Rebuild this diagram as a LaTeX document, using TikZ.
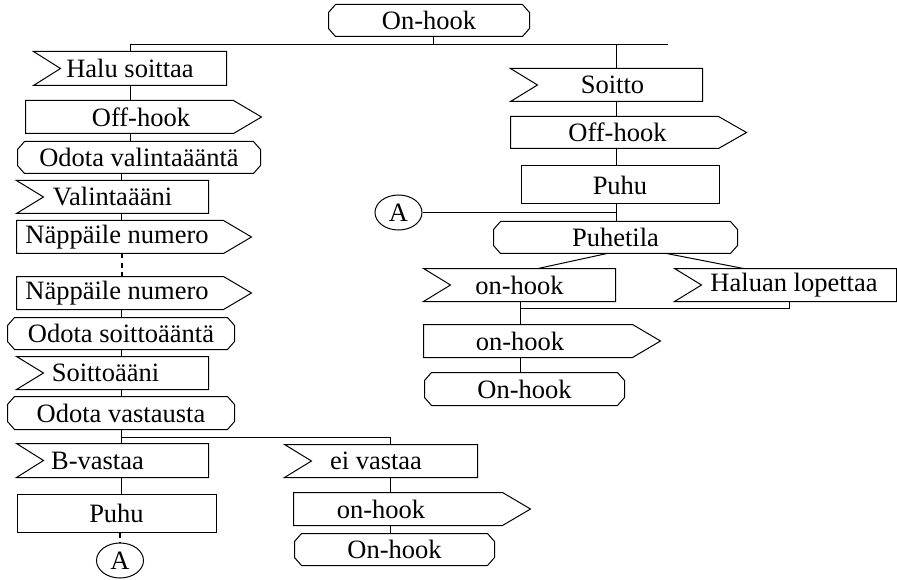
\documentclass[tikz,border=0pt]{standalone}
\usepackage{fontspec}
\setmainfont{Liberation Serif}
\usetikzlibrary{shapes.geometric}

% SDL outlines drawn round a named node
\newcommand{\sdlin}[1]{\draw (#1.north west) -- (#1.north east) -- (#1.south east) -- (#1.south west) -- ([xshift=27pt]#1.west) -- cycle;}
\newcommand{\sdlout}[1]{\draw (#1.north west) -- (#1.north east) -- ([xshift=28pt]#1.east) -- (#1.south east) -- (#1.south west) -- cycle;}
\newcommand{\sdlstate}[1]{\draw ([xshift=7pt]#1.north west) -- ([xshift=-7pt]#1.north east) -- ([yshift=-8pt]#1.north east) -- ([yshift=8pt]#1.south east) -- ([xshift=-7pt]#1.south east) -- ([xshift=7pt]#1.south west) -- ([yshift=8pt]#1.south west) -- ([yshift=-8pt]#1.north west) -- cycle;}

\begin{document}
\begin{tikzpicture}[x=1pt,y=-1pt,line width=1pt,
   sym/.style 2 args={inner sep=0pt,minimum width=#1pt,minimum height=#2pt,
      font=\fontsize{26.5}{30}\selectfont},
   tsh/.style={execute at begin node={\hspace*{#1pt}}},
   conn/.style={draw,ellipse,inner sep=0pt,minimum width=47pt,minimum height=35pt,
      font=\fontsize{26.5}{30}\selectfont},
   dots/.style={dash pattern=on 5pt off 4pt,line width=2pt}]
\useasboundingbox (0,0) rectangle (897,580);

% columns and joints
\coordinate (top) at (433,44.5);
\coordinate (topR) at (668,44.5);
\coordinate (colA) at (130,0);
\coordinate (colB) at (121.5,0);
\coordinate (colC) at (390,0);
\coordinate (colD) at (616,0);
\coordinate (colE) at (520,0);
\coordinate (splitL) at (121.5,437);
\coordinate (joinR) at (789,308.5);

\node[sym={200}{31}] (onhook0) at (429,20.5) {On-hook}; \sdlstate{onhook0}

% calling side
\node[sym={192}{33}] (halu) at (130,68.5) {Halu soittaa}; \sdlin{halu}
\node[sym={207}{32},tsh=23] (offhook1) at (129.5,117) {Off-hook}; \sdlout{offhook1}
\node[sym={242}{31}] (odota1) at (139,157.5) {Odota valintaääntä}; \sdlstate{odota1}
\node[sym={191}{32}] (valinta) at (112.5,197) {Valintaääni}; \sdlin{valinta}
\node[sym={206}{32},tsh=-6] (nappaile1) at (120,237) {Näppäile numero}; \sdlout{nappaile1}
\node[sym={206}{32},tsh=-6] (nappaile2) at (120,293) {Näppäile numero}; \sdlout{nappaile2}
\node[sym={226}{31}] (odota2) at (121,333.5) {Odota soittoääntä}; \sdlstate{odota2}
\node[sym={191}{32},tsh=-14] (soittoaani) at (112.5,373) {Soittoääni}; \sdlin{soittoaani}
\node[sym={226}{32}] (odota3) at (121,413) {Odota vastausta}; \sdlstate{odota3}
\node[sym={191}{33},tsh=-30] (bvastaa) at (112.5,460.5) {B-vastaa}; \sdlin{bvastaa}
\node[sym={199}{38},draw] (puhu1) at (116.5,513) {Puhu};
\node[conn] (conA1) at (120,560.5) {A};

\node[sym={192}{32},tsh=-10] (eivastaa) at (381,461) {ei vastaa}; \sdlin{eivastaa}
\node[sym={208}{32},tsh=-34] (onhook1) at (398,509) {on-hook}; \sdlout{onhook1}
\node[sym={199}{31}] (onhook2) at (394.5,549.5) {On-hook}; \sdlstate{onhook2}

% called side
\node[sym={191}{32},tsh=12] (soitto) at (606.5,85) {Soitto}; \sdlin{soitto}
\node[sym={207}{31},tsh=6] (offhook2) at (614.5,132.5) {Off-hook}; \sdlout{offhook2}
\node[sym={198}{38},draw] (puhu2) at (620,185) {Puhu};
\node[conn] (conA2) at (398.5,212.5) {A};
\node[sym={243}{31}] (puhetila) at (615.5,237.5) {Puhetila}; \sdlstate{puhetila}
\node[sym={191}{32}] (onhook3) at (519.5,285) {on-hook}; \sdlin{onhook3}
\node[sym={221}{32},tsh=17] (haluan) at (785.5,285) {Haluan lopettaa}; \sdlin{haluan}
\node[sym={208}{32},tsh=-16] (onhook4) at (528,341) {on-hook}; \sdlout{onhook4}
\node[sym={199}{32}] (onhook5) at (524.5,389) {On-hook}; \sdlstate{onhook5}

% flow lines
\draw (onhook0.south -| top) -- (top);
\draw (colA |- top) -- (topR);
\draw (colA |- top) -- (halu.north -| colA);
\draw (colD |- top) -- (soitto.north -| colD);
\draw (halu.south -| colA) -- (offhook1.north -| colA);
\draw (offhook1.south -| colA) -- (odota1.north -| colA);
\draw (odota1.south -| colB) -- (valinta.north -| colB);
\draw (valinta.south -| colB) -- (nappaile1.north -| colB);
\draw[dots] (nappaile1.south -| colB) -- (nappaile2.north -| colB);
\draw (nappaile2.south -| colB) -- (odota2.north -| colB);
\draw (odota2.south -| colB) -- (soittoaani.north -| colB);
\draw (soittoaani.south -| colB) -- (odota3.north -| colB);
\draw (odota3.south -| colB) -- (splitL) -- (splitL -| colC) -- (eivastaa.north -| colC);
\draw (splitL) -- (bvastaa.north -| colB);
\draw (bvastaa.south -| colB) -- (puhu1.north -| colB);
\draw[dots] (puhu1.south -| conA1.north) -- (conA1.north);
\draw (eivastaa.south -| colC) -- (onhook1.north -| colC);
\draw (onhook1.south -| colC) -- (onhook2.north -| colC);

\draw (soitto.south -| colD) -- (offhook2.north -| colD);
\draw (offhook2.south -| colD) -- (puhu2.north -| colD);
\draw (puhu2.south -| colD) -- (puhetila.north -| colD);
\draw (conA2.east) -- (conA2.east -| colD);
\draw ([xshift=-8.5pt]puhetila.south) -- ([xshift=18.5pt]onhook3.north);
\draw ([xshift=51pt]puhetila.south) -- ([xshift=-42pt]haluan.north);
\draw (onhook3.south -| colE) -- (joinR -| colE) -- (joinR) -- (haluan.south -| joinR);
\draw (joinR -| colE) -- (onhook4.north -| colE);
\draw (onhook4.south -| colE) -- (onhook5.north -| colE);
\end{tikzpicture}
\end{document}
